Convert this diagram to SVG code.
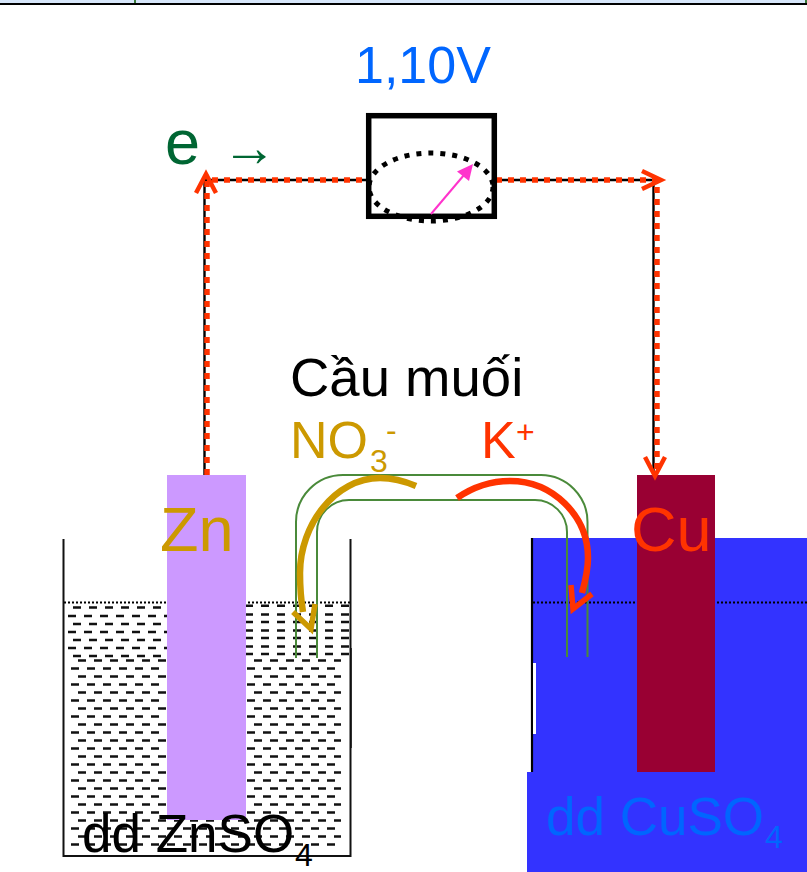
<svg xmlns="http://www.w3.org/2000/svg" width="807" height="872" viewBox="0 0 807 872">
<style>
text{font-family:"Liberation Sans",Arial,sans-serif}
.w{fill:none;stroke:#000;stroke-width:2.400}
.o{fill:none;stroke:#ff3300;stroke-width:5.500;stroke-dasharray:6 6}
.ch{fill:none;stroke:#ff3300;stroke-width:4.500}
.d{stroke:#111;stroke-width:2.400;stroke-dasharray:8 8}
.dot{stroke:#000;stroke-width:2;stroke-dasharray:2 2}
.br{fill:none;stroke:#4a8a3a;stroke-width:2}
</style>
<rect width="807" height="872" fill="#fff"/>
<g id="top-frame"><rect x="0" y="0" width="807" height="3" fill="#d6e6fa"/><rect x="0" y="3" width="807" height="2" fill="#000"/><rect x="134" y="0" width="2" height="3" fill="#3a7a3a"/><rect x="805" y="0" width="2" height="3" fill="#3a7a3a"/></g>
<g id="solution-cuso4"><rect x="532" y="538" width="275" height="234" fill="#3333ff"/><rect x="527" y="772" width="280" height="100" fill="#3333ff"/><path d="M532 538V772" stroke="#000" stroke-width="2.200"/><rect x="533" y="663" width="3" height="71" fill="#fff"/><path d="M533 602.500H807" class="dot"/></g>
<g id="solution-znso4">
<path d="M64 602.500H350" class="dot"/>
<g class="d">
<path d="M73 607.500H167M68 616H167M73 624H167M68 632H167M73 640H167M68 648H167M73 656H167"/>
<path d="M245 605.700H349M245 614.500H349M245 622H349M245 630.500H349M245 638H349M245 646.500H349M245 654H349"/>
<path d="M78 660.500H341M71 668.500H335M78 676.500H341M71 684.500H335M78 692.500H341M71 700.500H335M78 708.500H341M71 716.500H335M78 724.500H341M71 732.500H335M78 740.500H341M71 748.500H335M78 756.500H341M71 764.500H335M78 772.500H341M71 780.500H335M78 788.500H341M71 796.500H335M78 804.500H341M71 812.500H335M78 820.500H341M71 828.500H335M78 836.500H341M71 844.500H335"/>
</g>
<path d="M63.500 539V856H350.500V539" fill="none" stroke="#111" stroke-width="2"/><path d="M351 648V748" stroke="#111" stroke-width="1.500"/></g>
<g id="electrode-zn"><rect x="167" y="475" width="79" height="345" fill="#cc99ff"/><text x="160" y="551" font-size="63" fill="#cc9900">Zn</text></g>
<g id="electrode-cu"><rect x="637" y="475" width="78" height="297" fill="#990033"/><text x="631" y="551" font-size="63" fill="#ff3300">Cu</text></g>
<g id="connectors">
<path d="M204.500 475V180H366M496 180H653.500V475" class="w"/>
<path d="M207 475V180H366M496 180H657V475" class="o"/>
<path d="M196 193L206 174L216 193" class="ch"/>
<path d="M642 171L661 180L642 189" class="ch"/>
<path d="M645 457L655 476L665 457" class="ch"/>
</g>
<g id="voltmeter"><rect x="368.700" y="115.700" width="125.600" height="100.600" fill="#fff" stroke="#000" stroke-width="5.500"/><ellipse cx="431" cy="187" rx="62" ry="34" fill="none" stroke="#000" stroke-width="5" stroke-dasharray="5 7"/><path d="M431 214L464 175" stroke="#ff33cc" stroke-width="2"/><path d="M473 164L457 171.500L469 181Z" fill="#ff33cc"/><text x="355" y="83" font-size="52" fill="#0066ff">1,10V</text></g>
<g id="electron-label"><text x="165" y="164" font-size="63" fill="#006633">e</text><text x="222" y="166" font-size="55" fill="#006633">→</text></g>
<g id="salt-bridge">
<path d="M296 658V522A47 47 0 0 1 343 475H541A47 47 0 0 1 587.500 522V657" class="br"/>
<path d="M317 658V532A32 32 0 0 1 349 500H535A32 32 0 0 1 567 532V657" class="br"/>
<path d="M416 486C402 480 391 478 380 478C335 478 300 525 300 573C300 590 301 600 303 612" fill="none" stroke="#cc9900" stroke-width="6.500"/>
<path d="M293 612L311 629L315 604" fill="none" stroke="#cc9900" stroke-width="5.500"/>
<path d="M457 498C473 487 492 481 510 481C552 481 588 515 588 558C588 570 585 582 582 593" fill="none" stroke="#ff3300" stroke-width="6.500"/>
<path d="M571 585L573 609L592 594" fill="none" stroke="#ff3300" stroke-width="5.500"/>
</g>
<g id="labels">
<text x="290" y="396" font-size="54.500" fill="#000">Cầu muối</text>
<text x="290" y="458" font-size="52" fill="#cc9900">NO</text><text x="370" y="472" font-size="32" fill="#cc9900">3</text><text x="386" y="441" font-size="32" fill="#cc9900">-</text>
<text x="481" y="458" font-size="52" fill="#ff3300">K</text><text x="516" y="443" font-size="32" fill="#ff3300">+</text>
<text x="82" y="852" font-size="53" fill="#000">dd ZnSO</text><text x="295" y="866" font-size="32" fill="#000">4</text>
<text x="546" y="835" font-size="53" fill="#0066ff">dd CuSO</text><text x="765" y="848" font-size="32" fill="#0066ff">4</text>
</g>
</svg>
